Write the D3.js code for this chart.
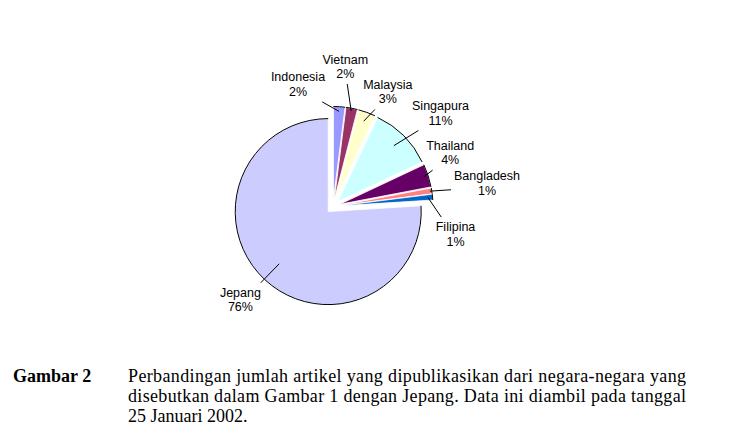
<!DOCTYPE html>
<html>
<head>
<meta charset="utf-8">
<script src="https://cdn.jsdelivr.net/npm/d3@7"></script>
<style>
  body { margin: 0; background: #fff; }
</style>
</head>
<body>
<div id="chart"></div>
<script>
// data
const countries = ["Indonesia", "Vietnam", "Malaysia", "Singapura", "Thailand", "Bangladesh", "Filipina", "Jepang"];
const shares = [2, 2, 3, 11, 4, 1, 1, 76];
const pctLabels = ["2%", "2%", "3%", "11%", "4%", "1%", "1%", "76%"];
const sliceColors = ["#9999FF", "#993366", "#FFFFCC", "#CCFFFF", "#660066", "#FF8080", "#0066CC", "#CCCCFF"];

// caption text
const captionTitle = "Gambar 2";
const captionLines = [
    "Perbandingan jumlah artikel yang dipublikasikan dari negara-negara yang",
    "disebutkan dalam Gambar 1 dengan Jepang. Data ini diambil pada tanggal",
    "25 Januari 2002."
];

// layout: where each label sits (angle in degrees from 12 o'clock, distance from pie centre)
const labelAngle = [-16, 5, 25.6, 49, 65.3, 81.5, 102.7, 224.8];
const labelDist = [127, 140.5, 127, 142.5, 129, 155.7, 125.6, 131.4];
// how far into the slice the leader line reaches (fraction of radius)
const leaderReach = [0.95, 0.97, 0.9, 0.85, 0.95, 0.98, 0.95, 0.77];

const width = 730;
const height = 438;
const cx = 333, cy = 206.5;
const radius = 93;
const explode = 7;

const svg = d3.select("#chart")
    .append("svg")
    .attr("width", width)
    .attr("height", height);

svg.append("rect")
    .attr("width", width)
    .attr("height", height)
    .attr("fill", "#fff");

const pie = d3.pie().sort(null).value(d => d);
const arcs = pie(shares);

const arcFill = d3.arc().innerRadius(0).outerRadius(radius);

const chart = svg.append("g").attr("transform", `translate(${cx},${cy})`);

// each slice pulled out along its own bisector
function offset(d) {
    const mid = (d.startAngle + d.endAngle) / 2;
    return [Math.sin(mid) * explode, -Math.cos(mid) * explode];
}

const slices = chart.selectAll("g.slice")
    .data(arcs)
    .enter().append("g")
    .attr("class", "slice")
    .attr("transform", d => {
        const o = offset(d);
        return `translate(${o[0]},${o[1]})`;
    });

slices.append("path")
    .attr("d", arcFill)
    .attr("fill", (d, i) => sliceColors[i])
    .attr("stroke", "#fff")
    .attr("stroke-width", 0.8);

// black outline on the rim only
slices.append("path")
    .attr("d", d => {
        const p = d3.path();
        p.arc(0, 0, radius, d.startAngle - Math.PI / 2, d.endAngle - Math.PI / 2);
        return p.toString();
    })
    .attr("fill", "none")
    .attr("stroke", "#000")
    .attr("stroke-width", 1);

// labels
const labels = svg.append("g")
    .attr("font-family", "'Liberation Sans', Arial, sans-serif")
    .attr("font-size", 12.5)
    .attr("fill", "#000");

const leaders = svg.append("g");

arcs.forEach((d, i) => {
    const a = labelAngle[i] * Math.PI / 180;
    const lx = cx + labelDist[i] * Math.sin(a);
    const ly = cy - labelDist[i] * Math.cos(a);

    const t = labels.append("text")
        .attr("text-anchor", "middle");
    t.append("tspan").attr("x", lx).attr("y", ly - 3).text(countries[i]);
    const pct = t.append("tspan").attr("x", lx).attr("y", ly + 11.5).text(pctLabels[i]);

    const bb = t.node().getBBox();
    const pb = pct.node().getBBox();
    const pad = 3;
    const bx0 = bb.x - pad, bx1 = bb.x + bb.width + pad;
    const by0 = bb.y - pad, by1 = bb.y + bb.height + pad;

    // start of the leader inside the slice
    const mid = (d.startAngle + d.endAngle) / 2;
    const o = offset(d);
    const r = leaderReach[i] * radius;
    const x0 = cx + o[0] + r * Math.sin(mid);
    const y0 = cy + o[1] - r * Math.cos(mid);

    // run toward the middle of the label and stop at its box
    const tx = bb.x + bb.width / 2;
    const ty = (bb.y + bb.height / 2 + pb.y + pb.height / 2) / 2;
    const dx = tx - x0, dy = ty - y0;
    let tEnter = 0;
    if (dx !== 0) tEnter = Math.max(tEnter, ((dx > 0 ? bx0 : bx1) - x0) / dx);
    if (dy !== 0) tEnter = Math.max(tEnter, ((dy > 0 ? by0 : by1) - y0) / dy);

    leaders.append("line")
        .attr("x1", x0)
        .attr("y1", y0)
        .attr("x2", x0 + dx * tEnter)
        .attr("y2", y0 + dy * tEnter)
        .attr("stroke", "#000")
        .attr("stroke-width", 1);
});

// caption below the chart
const caption = svg.append("g")
    .attr("font-family", "'Liberation Serif', 'Times New Roman', serif")
    .attr("font-size", 18)
    .attr("fill", "#000");

caption.append("text")
    .attr("x", 13)
    .attr("y", 382)
    .attr("font-weight", "bold")
    .text(captionTitle);

captionLines.forEach((line, i) => {
    const txt = caption.append("text")
        .attr("x", 128)
        .attr("y", 382 + i * 20)
        .text(line);
    // first two lines are justified in the original
    if (i < captionLines.length - 1) {
        txt.attr("textLength", 558).attr("lengthAdjust", "spacing");
    }
});
</script>
</body>
</html>
